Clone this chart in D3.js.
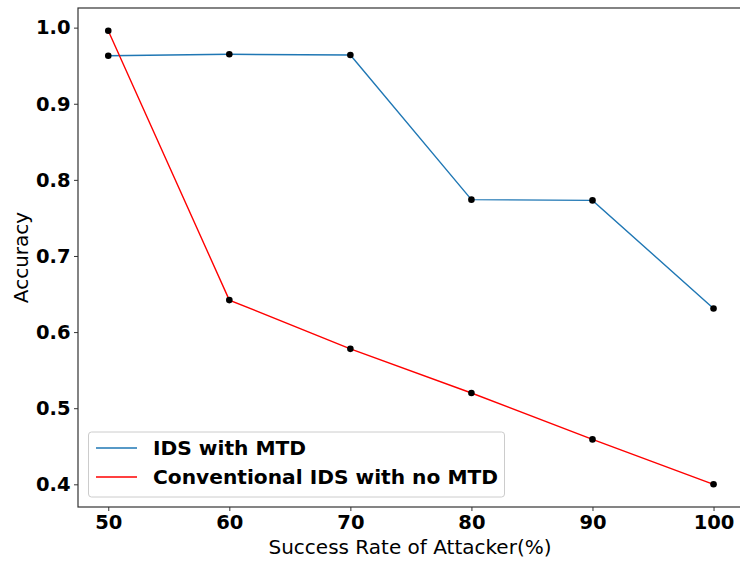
<!DOCTYPE html>
<html><head><meta charset="utf-8">
<script src="https://cdn.jsdelivr.net/npm/d3@7"></script>
<style>body{margin:0;background:#fff}svg{display:block}</style>
</head><body>
<svg id="c" width="740" height="561"></svg>
<script>
const xValues = [50, 60, 70, 80, 90, 100];
const idsMTD = [0.963, 0.965, 0.964, 0.774, 0.773, 0.631];
const conventional = [0.996, 0.642, 0.578, 0.520, 0.459, 0.400];
const xTicks = [50, 60, 70, 80, 90, 100];
const yTicks = [0.4, 0.5, 0.6, 0.7, 0.8, 0.9, 1.0];
const seriesNames = ["IDS with MTD", "Conventional IDS with no MTD"];
const seriesColors = ["#1f77b4", "red"];

const svg = d3.select("#c");
const L = 78, R = 743.8, T = 8, B = 507;
const x = d3.scaleLinear().domain([47.5, 102.5]).range([L, R]);
const y = d3.scaleLinear().domain([0.3702, 1.0258]).range([B, T]);

const font = "DejaVu Sans, sans-serif";
const fs = 20;
const tfs = 19.5;

const gx = svg.append("g").attr("transform", `translate(0,${B})`)
  .call(d3.axisBottom(x).tickValues(xTicks).tickFormat(d3.format("d")).tickSize(4).tickPadding(3.5));
const gy = svg.append("g").attr("transform", `translate(${L},0)`)
  .call(d3.axisLeft(y).tickValues(yTicks).tickFormat(d3.format(".1f")).tickSize(4).tickPadding(3.5));
[gx, gy].forEach(g => {
  g.select(".domain").remove();
  g.selectAll("line").attr("stroke", "#333").attr("stroke-width", 1);
  g.selectAll("text").attr("font-family", font).attr("font-weight", "bold").attr("font-size", tfs).attr("fill", "#000");
});
gx.selectAll("text").attr("dy", "0.72em");

// spines
svg.append("rect").attr("x", L).attr("y", T).attr("width", R - L).attr("height", B - T)
  .attr("fill", "none").attr("stroke", "#333").attr("stroke-width", 1.2);

const series = [idsMTD, conventional];
const line = d3.line().x((d, i) => x(xValues[i])).y(d => y(d));
series.forEach((s, k) => {
  svg.append("path").datum(s).attr("d", line).attr("fill", "none")
    .attr("stroke", seriesColors[k]).attr("stroke-width", 1.4);
});
series.forEach((s, k) => {
  svg.selectAll(null).data(s).enter().append("circle")
    .attr("cx", (d, i) => x(xValues[i])).attr("cy", d => y(d)).attr("r", 3.3)
    .attr("fill", "#000");
});

// axis labels
svg.append("text").attr("x", 410).attr("y", 553.5).attr("text-anchor", "middle")
  .attr("font-family", font).attr("font-size", fs).text("Success Rate of Attacker(%)");
svg.append("text").attr("transform", `translate(28,${(T + B) / 2}) rotate(-90)`)
  .attr("text-anchor", "middle").attr("font-family", font).attr("font-size", fs).text("Accuracy");

// legend
const lg = svg.append("g");
lg.append("rect").attr("x", 88.5).attr("y", 432).attr("width", 416).attr("height", 65).attr("rx", 3)
  .attr("fill", "#fff").attr("fill-opacity", 0.8).attr("stroke", "#ccc").attr("stroke-width", 1);
seriesNames.forEach((n, k) => {
  const yy = 448 + k * 29;
  lg.append("line").attr("x1", 96).attr("x2", 137).attr("y1", yy).attr("y2", yy)
    .attr("stroke", seriesColors[k]).attr("stroke-width", 1.4);
  lg.append("text").attr("x", 153).attr("y", yy).attr("dy", "0.36em")
    .attr("font-family", font).attr("font-weight", "bold").attr("font-size", 20.2).text(n);
});
</script>
</body></html>
